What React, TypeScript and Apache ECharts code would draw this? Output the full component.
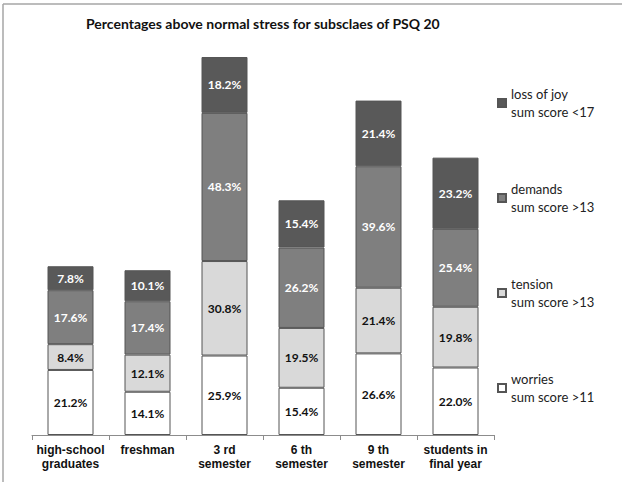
import React, { useEffect, useRef } from "react";
import * as echarts from "echarts";

const categories = [
  "high-school\ngraduates",
  "freshman",
  "3 rd\nsemester",
  "6 th\nsemester",
  "9 th\nsemester",
  "students in\nfinal year",
];
const worries = [21.2, 14.1, 25.9, 15.4, 26.6, 22.0];
const tension = [8.4, 12.1, 30.8, 19.5, 21.4, 19.8];
const demands = [17.6, 17.4, 48.3, 26.2, 39.6, 25.4];
const lossOfJoy = [7.8, 10.1, 18.2, 15.4, 21.4, 23.2];

const seriesNames = ["worries", "tension", "demands", "loss of joy"];
const seriesSub = ["sum score >11", "sum score >13", "sum score >13", "sum score <17"];
const seriesColors = ["#ffffff", "#d9d9d9", "#7f7f7f", "#595959"];
const labelColors = ["#111111", "#111111", "#ffffff", "#ffffff"];

export default function App() {
  const ref = useRef<HTMLDivElement>(null);
  useEffect(() => {
    if (!ref.current) return;
    const chart = echarts.init(ref.current, null, { renderer: "svg" });
    const values = [worries, tension, demands, lossOfJoy];
    const subMap: Record<string, string> = {};
    seriesNames.forEach((n, i) => (subMap[n] = seriesSub[i]));
    chart.setOption({
      animation: false,
      backgroundColor: "#ffffff",
      title: {
        text: "Percentages above normal stress for subsclaes of PSQ 20",
        left: 81,
        top: 11,
        textStyle: {
          fontFamily: "Lato",
          fontWeight: "bold",
          fontSize: 14,
          color: "#111111",
        },
      },
      graphic: [
        {
          type: "line",
          shape: { x1: 3, y1: 4, x2: 622, y2: 4 },
          style: { stroke: "#a6a6a6", lineWidth: 1.5 },
        },
        {
          type: "line",
          shape: { x1: 3, y1: 4, x2: 3, y2: 482 },
          style: { stroke: "#a6a6a6", lineWidth: 1.5 },
        },
      ],
      legend: {
        orient: "vertical",
        left: 492,
        top: 71,
        data: [...seriesNames].reverse(),
        icon: "rect",
        itemWidth: 8,
        itemHeight: 8,
        itemGap: 41,
        formatter: (name: string) => name + "\n" + subMap[name],
        textStyle: {
          fontFamily: "Lato",
          fontSize: 13,
          color: "#222222",
          lineHeight: 18,
          padding: [18, 0, 0, 0],
        },
      },
      grid: { left: 32, right: 131, top: 51.5, bottom: 51 },
      xAxis: {
        type: "category",
        data: categories,
        axisLine: { lineStyle: { color: "#8c8c8c", width: 1 } },
        axisTick: { show: true, length: 5, lineStyle: { color: "#8c8c8c" } },
        axisLabel: {
          fontFamily: "Liberation Sans",
          fontWeight: "bold",
          fontSize: 12,
          color: "#111111",
          lineHeight: 14,
          margin: 8,
          interval: 0,
        },
      },
      yAxis: {
        type: "value",
        min: 0,
        max: 125,
        show: false,
        splitLine: { show: false },
      },
      series: seriesNames.map((name, i) => ({
        name,
        type: "bar",
        stack: "total",
        barWidth: 46,
        data: values[i],
        itemStyle: {
          color: seriesColors[i],
          borderColor: "#555555",
          borderWidth: 1,
        },
        label: {
          show: true,
          position: "inside",
          formatter: (p: any) => p.value.toFixed(1) + "%",
          fontFamily: "Lato",
          fontWeight: "bold",
          fontSize: 12,
          color: labelColors[i],
        },
      })),
    });
    return () => chart.dispose();
  }, []);
  return (
    <div
      ref={ref}
      style={{ position: "fixed", left: 0, top: 0, width: 625, height: 486 }}
    />
  );
}
